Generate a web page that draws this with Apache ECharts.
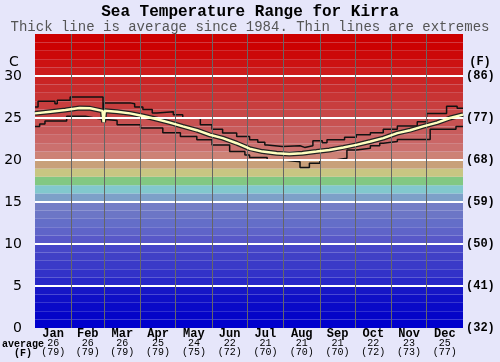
<!DOCTYPE html>
<html>
<head>
<meta charset="utf-8">
<script src="https://cdn.jsdelivr.net/npm/echarts@6/dist/echarts.min.js"></script>
<style>
html,body{margin:0;padding:0;background:#e6e6fa;}
#c{width:500px;height:362px;}
</style>
</head>
<body>
<div id="c"></div>
<script>
// ---- data ----
var months = ['Jan','Feb','Mar','Apr','May','Jun','Jul','Aug','Sep','Oct','Nov','Dec'];
var monthStartDays = [0,31,59,90,120,151,181,212,243,273,304,334,365];
var avgC = [26,26,26,25,24,22,21,21,21,22,23,25];
var avgF = [79,79,79,79,75,72,70,70,70,72,73,77];
var yTicksC = [0,5,10,15,20,25,30];

// average temperature [day of year, °C]
var avgLine = [[0,25.55],[13,25.75],[26,25.95],[38,26.2],[47,26.15],[57.5,25.85],[58.5,24.5],[59.5,25.85],
  [70,25.75],[81,25.55],[92,25.25],[104,24.85],[115,24.45],[126,24.0],[138,23.55],[149,23.0],[160,22.6],
  [172,22.0],[183,21.35],[194,21.0],[206,20.8],[217,20.7],[228,20.8],[240,21.0],[251,21.2],[263,21.5],
  [274,21.8],[286,22.2],[297,22.6],[309,23.2],[320,23.55],[331,24.0],[343,24.45],[354,25.0],[365,25.4]];
// highest recorded [day, °C] (step segments)
var maxLine = [[0,26.3],[2.6,27.0],[17,26.7],[19,27.1],[30,27.5],[58,25.0],[59,26.8],[81,26.7],[85,26.3],
  [92,26.0],[100,25.6],[104,25.75],[118,25.4],[126,25.0],[141,24.2],[151,23.65],[160,23.2],[172,22.8],
  [183,22.4],[190,22.1],[196,21.8],[198,21.6],[211,21.7],[226,21.5],[230,21.7],[237,22.3],[245,22.06],
  [249,22.4],[264,22.7],[274,23.0],[286,23.25],[297,23.65],[309,24.05],[326,24.56],[334,25.55],
  [351,26.4],[360,26.15],[365,26.15]];
// lowest recorded [day, °C] (step segments)
var minLine = [[0,24.0],[4,24.3],[8.5,24.65],[27,25.2],[43,25.0],[51,24.85],[58,24.7],[70,24.2],[90,23.8],
  [109,23.25],[124,22.8],[138,22.4],[151,21.8],[166,21.0],[179,20.6],[183,20.3],[198,20.0],[211,19.8],
  [226,19.1],[234,19.6],[243,20.0],[256,20.2],[266,21.2],[274,21.4],[286,21.7],[294,22.0],[297,22.2],
  [309,22.45],[337,23.65],[359,24.0],[365,24.0]];

// background band colours, one per degree from 0-1 °C up to 34-35 °C
var bandColors = [
 'rgb(0,0,205)','rgb(5,5,200)','rgb(10,10,200)','rgb(15,15,198)','rgb(22,22,198)',
 'rgb(40,40,200)','rgb(50,50,200)','rgb(58,58,200)','rgb(64,64,198)','rgb(70,70,200)',
 'rgb(88,88,200)','rgb(95,100,200)','rgb(100,110,200)','rgb(108,118,198)','rgb(115,125,198)',
 'rgb(125,160,200)','rgb(130,200,205)','rgb(130,200,130)','rgb(200,198,130)','rgb(200,160,122)',
 'rgb(205,130,118)','rgb(203,112,110)','rgb(202,102,102)','rgb(200,92,92)','rgb(200,82,82)',
 'rgb(200,72,72)','rgb(200,62,62)','rgb(200,52,52)','rgb(200,44,44)','rgb(202,36,36)',
 'rgb(204,28,28)','rgb(204,18,18)','rgb(204,8,8)','rgb(204,2,2)','rgb(204,0,0)'];

// ---- chart ----
var mono = 'Liberation Mono';
var midDays = [];
for (var i=0;i<12;i++) midDays.push((monthStartDays[i]+monthStartDays[i+1])/2);

var bands = bandColors.map(function(c,i){
  return [{yAxis:i, itemStyle:{color:c}},{yAxis:i+1}];
});
var monthLines = monthStartDays.slice(1,12).map(function(d){ return {xAxis:d}; });
var whiteLines = yTicksC.filter(function(v){return v>0;}).map(function(v){ return {yAxis:v}; });

var chart = echarts.init(document.getElementById('c'), null, {renderer:'canvas'});
chart.setOption({
  backgroundColor:'#e6e6fa',
  animation:false,
  grid:{left:35,right:37,top:34,bottom:34},
  xAxis:[{
    type:'value',min:0,max:365,
    axisLine:{show:false},axisTick:{show:false},splitLine:{show:false},
    axisLabel:{
      customValues: midDays,
      margin:1,
      formatter:function(v){
        var k=0,best=1e9;
        for(var i=0;i<12;i++){var d=Math.abs(midDays[i]-v); if(d<best){best=d;k=i;}}
        return '{m|'+months[k]+'}\n{v|'+avgC[k]+'}\n{f|('+avgF[k]+')}';
      },
      rich:{
        m:{fontFamily:mono,fontWeight:'bold',fontSize:12,lineHeight:10,color:'#000'},
        v:{fontFamily:mono,fontSize:10,lineHeight:9,color:'#000'},
        f:{fontFamily:mono,fontSize:10,lineHeight:9,color:'#000'}
      }
    }
  }],
  yAxis:[{
    type:'value',min:0,max:35,interval:5,
    axisLine:{show:false},axisTick:{show:false},splitLine:{show:false},
    axisLabel:{margin:13,fontFamily:'DejaVu Sans',fontSize:14,color:'#000',
      formatter:function(v){return v>=35?'':String(v);}}
  },{
    type:'value',min:0,max:35,interval:5,position:'right',
    axisLine:{show:false},axisTick:{show:false},splitLine:{show:false},
    axisLabel:{margin:3,fontFamily:mono,fontWeight:'bold',fontSize:12,color:'#000',
      formatter:function(v){return v>=35?'':'('+Math.round(v*9/5+32)+')';}}
  }],
  series:[
    {type:'line',data:[],silent:true,z:1,
      markArea:{silent:true,data:bands}
    },
    {type:'line',data:[],silent:true,z:2,
      markLine:{silent:true,symbol:'none',label:{show:false},
        lineStyle:{color:'#ffffff',width:2,type:'solid'},data:whiteLines}
    },
    {type:'line',data:[],silent:true,z:2,
      markLine:{silent:true,symbol:'none',label:{show:false},
        lineStyle:{color:'#666',width:1,type:'solid'},data:monthLines}
    },
    {type:'line',data:maxLine,step:'end',symbol:'none',lineStyle:{color:'#111',width:1.5},z:3},
    {type:'line',data:minLine,step:'end',symbol:'none',lineStyle:{color:'#111',width:1.5},z:3},
    {type:'line',data:avgLine,symbol:'none',lineStyle:{color:'#222',width:5},z:4},
    {type:'line',data:avgLine,symbol:'none',lineStyle:{color:'#ffffc0',width:2.5},z:5}
  ],
  graphic:[
    {type:'text',left:'center',top:4,style:{text:'Sea Temperature Range for Kirra',
      font:'bold 16px "Liberation Mono"',fill:'#000'}},
    {type:'text',left:'center',top:20,style:{text:'Thick line is average since 1984. Thin lines are extremes',
      font:'14px "Liberation Mono"',fill:'#555'}},
    {type:'text',x:14,y:62,style:{text:'C',font:'14px "DejaVu Sans"',fill:'#000',align:'center',verticalAlign:'middle'}},
    {type:'text',x:480,y:62,style:{text:'(F)',font:'bold 12px "Liberation Mono"',fill:'#000',align:'center',verticalAlign:'middle'}},
    {type:'text',x:23,y:344,style:{text:'average',font:'bold 10px "Liberation Mono"',fill:'#000',align:'center',verticalAlign:'middle'}},
    {type:'text',x:23,y:353,style:{text:'(F)',font:'bold 10px "Liberation Mono"',fill:'#000',align:'center',verticalAlign:'middle'}}
  ]
});
</script>
</body>
</html>
